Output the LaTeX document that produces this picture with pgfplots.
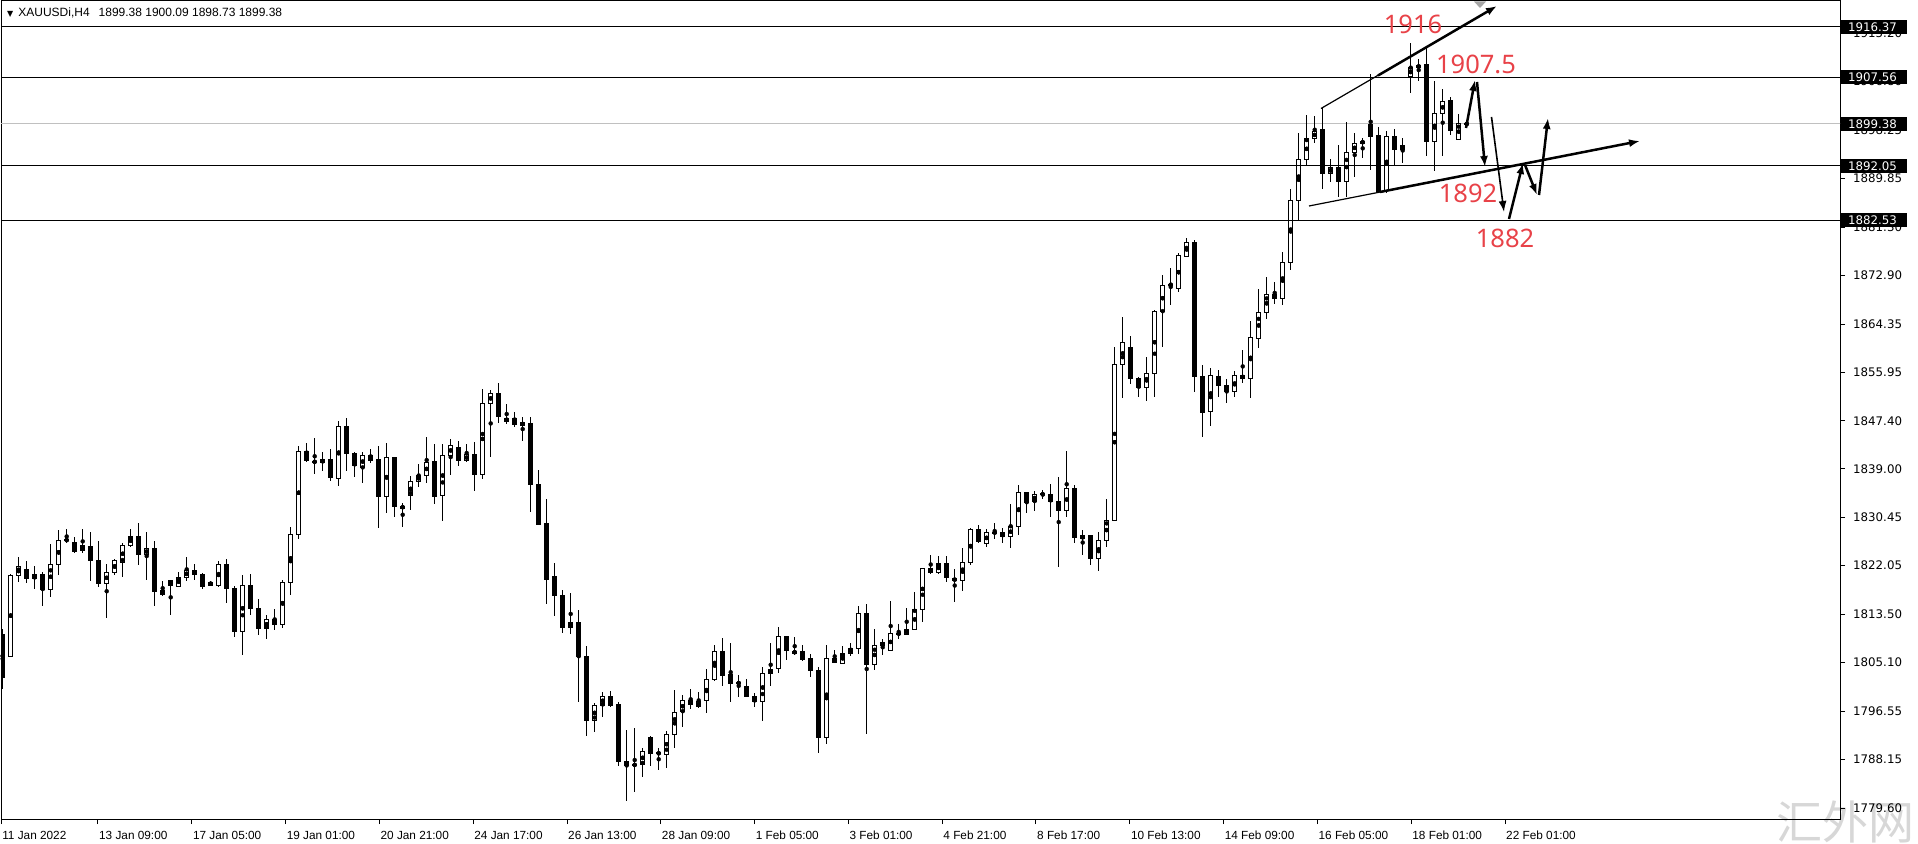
\documentclass[border=0pt]{standalone}
\usepackage{fontspec}
\usepackage{pgfplots}
\usepackage{pgfplotstable}
\pgfplotsset{compat=1.18}
\usetikzlibrary{arrows.meta}
\newfontfamily\dv{DejaVu Sans}
\newfontfamily\lib{Liberation Sans}
\newfontfamily\noto{Noto Sans}
\newfontfamily\cjk{Noto Sans CJK SC}
\newcommand\pricefont{\dv\fontsize{11.8bp}{13bp}\selectfont}
\newcommand\datefont{\lib\fontsize{11.8bp}{13bp}\selectfont}
\newcommand\titlefont{\lib\fontsize{12bp}{14bp}\selectfont}
\newcommand\annfont{\noto\fontsize{25.5bp}{28bp}\selectfont}
\definecolor{annred}{RGB}{232,66,72}
\definecolor{bidgray}{RGB}{192,192,192}
\definecolor{wmgray}{RGB}{215,215,215}

\pgfplotstableread{
i o h l c
0 1810.0 1811.0 1800.5 1802.5
1 1806.23 1820.6 1806.0 1820.41
2 1820.35 1823.5 1819.24 1821.87
3 1821.4 1822.8 1819.07 1819.77
4 1819.77 1821.99 1818.02 1820.58
5 1820.58 1820.93 1814.98 1817.9
6 1817.9 1825.84 1816.62 1822.34
7 1822.28 1828.29 1820.41 1826.54
8 1826.55 1828.4 1825.95 1826.5
9 1826.07 1827.12 1824.32 1824.61
10 1824.67 1828.4 1824.2 1825.6
11 1825.49 1827.94 1819.42 1822.92
12 1823.04 1826.42 1818.37 1818.95
13 1818.95 1822.34 1812.82 1820.93
14 1820.82 1823.27 1820.47 1823.04
15 1822.63 1826.07 1820.0 1825.66
16 1825.6 1828.4 1825.25 1827.24
17 1827.24 1829.57 1822.10 1823.97
18 1823.97 1827.94 1819.53 1825.08
19 1825.08 1826.30 1814.98 1817.49
20 1817.67 1819.42 1816.79 1816.97
21 1819.53 1819.6 1813.41 1818.54
22 1818.48 1820.93 1818.25 1820.0
23 1820.0 1823.5 1819.3 1821.23
24 1821.29 1822.34 1819.53 1820.47
25 1820.58 1820.7 1817.9 1818.48
26 1818.6 1819.3 1818.5 1819.18
27 1818.54 1822.8 1818.4 1822.34
28 1822.34 1823.15 1815.57 1818.02
29 1818.13 1818.48 1809.61 1810.55
30 1810.55 1820.35 1806.4 1818.6
31 1818.6 1820.6 1813.5 1814.5
32 1814.5 1816.3 1810.0 1811.0
33 1811.0 1813.5 1809.2 1812.6
34 1812.6 1814.5 1810.8 1811.8
35 1811.8 1819.6 1811.2 1819.2
36 1819.13 1828.76 1816.91 1827.53
37 1827.53 1843.0 1826.66 1842.12
38 1842.12 1843.46 1840.25 1840.54
39 1840.25 1844.34 1838.09 1840.2
40 1840.08 1841.94 1838.68 1840.66
41 1840.66 1842.41 1836.87 1837.45
42 1837.33 1847.37 1836.05 1846.38
43 1846.38 1847.95 1838.68 1841.71
44 1841.71 1841.94 1837.63 1839.55
45 1839.26 1841.94 1836.58 1841.30
46 1841.30 1842.41 1839.96 1840.54
47 1840.66 1843.0 1828.70 1834.12
48 1834.12 1843.58 1831.32 1841.01
49 1841.01 1841.1 1830.51 1832.37
50 1832.49 1833.07 1828.87 1832.08
51 1834.24 1837.74 1831.79 1836.75
52 1836.81 1839.79 1835.87 1837.86
53 1837.86 1844.51 1836.58 1840.14
54 1840.37 1843.35 1832.84 1834.24
55 1834.30 1843.35 1829.92 1841.36
56 1841.36 1844.16 1837.98 1843.11
57 1842.76 1843.87 1839.49 1840.43
58 1840.43 1843.35 1840.19 1841.54
59 1841.54 1843.70 1835.17 1838.03
60 1838.03 1852.92 1837.28 1850.46
61 1850.46 1852.80 1841.13 1852.21
62 1852.21 1853.97 1847.08 1848.13
63 1847.37 1850.35 1846.85 1847.84
64 1847.84 1848.89 1846.38 1846.79
65 1846.67 1848.01 1843.93 1847.08
66 1846.96 1848.13 1831.50 1836.28
67 1836.28 1838.79 1829.17 1829.34
68 1829.34 1833.66 1815.28 1819.65
69 1820.24 1822.45 1813.29 1816.79
70 1816.85 1817.79 1810.31 1811.19
71 1811.25 1817.20 1810.02 1812.13
72 1812.13 1814.28 1798.12 1806.11
73 1806.23 1808.04 1792.28 1794.91
74 1794.91 1798.06 1792.87 1797.65
75 1797.59 1799.93 1795.61 1799.23
76 1799.23 1800.04 1797.36 1797.65
77 1797.83 1798.24 1786.97 1787.73
78 1787.85 1793.27 1780.90 1787.03
79 1787.2 1793.57 1782.48 1787.15
80 1787.26 1790.07 1784.99 1789.60
81 1791.99 1792.22 1786.97 1789.19
82 1789.3 1790.07 1786.27 1789.1
83 1789.08 1793.10 1786.56 1792.52
84 1792.57 1800.28 1790.07 1796.37
85 1796.49 1799.40 1793.74 1798.41
86 1798.41 1800.40 1796.89 1797.77
87 1797.36 1799.87 1797.07 1798.30
88 1798.42 1803.90 1796.31 1802.15
89 1802.09 1808.16 1801.92 1807.05
90 1807.11 1809.33 1800.98 1802.79
91 1803.03 1808.57 1798.24 1801.45
92 1801.62 1802.91 1799.11 1801.39
93 1800.98 1802.21 1798.99 1799.23
94 1799.23 1799.70 1797.25 1798.24
95 1798.24 1804.25 1794.91 1803.20
96 1803.20 1808.45 1800.98 1803.90
97 1804.02 1811.25 1803.20 1809.62
98 1809.74 1809.8 1805.53 1807.17
99 1806.70 1809.50 1806.41 1807.11
100 1807.11 1808.10 1805.42 1805.71
101 1805.83 1806.58 1802.62 1803.67
102 1803.78 1804.25 1789.19 1791.94
103 1791.94 1808.16 1790.83 1805.83
104 1805.83 1807.29 1805.07 1805.18
105 1804.95 1807.99 1804.83 1806.70
106 1806.70 1808.45 1806.23 1807.58
107 1807.58 1814.99 1806.58 1813.70
108 1813.70 1815.34 1792.58 1804.78
109 1804.78 1810.90 1803.78 1808.10
110 1808.10 1809.15 1806.41 1808.57
111 1807.23 1815.86 1807.1 1810.20
112 1810.2 1811.78 1809.15 1810.1
113 1810.03 1814.58 1809.9 1810.90
114 1810.90 1817.50 1810.8 1814.40
115 1814.40 1821.7 1812.24 1821.58
116 1821.58 1823.92 1820.59 1820.82
117 1820.88 1823.74 1820.53 1822.46
118 1822.46 1823.74 1819.25 1819.95
119 1819.83 1821.41 1815.75 1819.42
120 1819.42 1825.08 1817.67 1822.63
121 1822.57 1828.64 1822.17 1828.41
122 1828.41 1829.17 1825.96 1826.25
123 1825.96 1828.41 1825.38 1827.88
124 1827.9 1829.46 1826.78 1827.8
125 1827.94 1828.70 1826.07 1827.13
126 1827.13 1832.84 1825.08 1828.88
127 1828.88 1836.17 1827.42 1834.89
128 1834.89 1835.0 1831.33 1833.14
129 1833.25 1835.06 1831.68 1834.54
130 1834.5 1835.30 1833.72 1834.6
131 1834.54 1836.35 1830.63 1833.31
132 1833.37 1837.51 1821.87 1831.68
133 1831.68 1842.12 1830.51 1835.59
134 1835.59 1836.17 1825.96 1827.01
135 1826.78 1828.29 1823.92 1827.25
136 1827.25 1827.3 1822.17 1823.27
137 1823.27 1828.0 1821.17 1826.54
138 1826.54 1833.66 1825.26 1830.04
139 1830.04 1860.38 1829.87 1857.29
140 1857.29 1865.64 1851.46 1861.14
141 1860.27 1862.25 1853.85 1854.78
142 1854.84 1855.13 1851.63 1853.21
143 1853.27 1858.52 1850.93 1855.72
144 1855.72 1866.80 1851.51 1866.63
145 1866.63 1872.93 1860.27 1871.12
146 1871.35 1874.10 1867.62 1871.12
147 1870.60 1876.84 1870.01 1876.26
148 1876.26 1879.35 1876.02 1878.59
149 1878.59 1879.06 1852.51 1855.13
150 1855.13 1857.17 1844.63 1848.83
151 1849.01 1856.59 1846.55 1855.37
152 1855.25 1856.30 1851.63 1853.56
153 1853.67 1854.67 1850.46 1852.51
154 1852.51 1856.06 1851.51 1855.37
155 1855.37 1859.80 1854.08 1854.84
156 1854.84 1864.94 1851.46 1862.02
157 1861.84 1870.42 1860.09 1866.40
158 1866.40 1872.52 1865.17 1869.55
159 1869.55 1871.76 1867.85 1868.85
160 1868.85 1877.02 1867.68 1875.09
161 1875.09 1888.0 1873.81 1886.06
162 1886.06 1897.73 1882.66 1893.18
163 1893.18 1900.94 1892.19 1896.86
164 1896.86 1900.77 1895.98 1898.08
165 1898.43 1902.11 1887.93 1890.73
166 1890.73 1893.18 1889.27 1891.78
167 1891.78 1895.69 1886.53 1889.27
168 1889.27 1899.66 1886.53 1894.41
169 1894.41 1897.73 1890.15 1895.98
170 1895.98 1896.86 1893.36 1896.39
171 1899.37 1908.2 1891.31 1897.15
172 1897.27 1898.90 1887.3 1887.52
173 1887.81 1898.20 1887.35 1897.27
174 1897.27 1898.43 1892.19 1894.82
175 1894.82 1896.86 1892.60 1895.69
176 1907.66 1913.61 1904.86 1909.29
177 1909.29 1910.69 1906.96 1909.64
178 1909.82 1912.62 1893.77 1896.28
179 1896.28 1906.96 1891.20 1901.24
180 1901.24 1905.44 1893.77 1903.34
181 1903.57 1904.04 1897.45 1898.32
182 1896.69 1901.12 1896.69 1899.37
183 1899.38 1900.09 1898.73 1899.38
}\candles

\begin{document}
\begin{tikzpicture}
\begin{axis}[
  at={(1bp,25bp)}, anchor=south west, scale only axis, width=1839bp, height=818bp,
  xmin=-0.2125, xmax=229.6625, ymin=1777.70, ymax=1920.90, enlargelimits=false,
  axis line style={black, line width=1bp},
  xtick={-0.2,11.91,23.64,35.36,47.09,58.81,70.54,82.26,93.99,105.71,117.44,129.16,140.89,152.61,164.34,176.06,187.79},
  xticklabels={11 Jan 2022,13 Jan 09:00,17 Jan 05:00,19 Jan 01:00,20 Jan 21:00,24 Jan 17:00,26 Jan 13:00,28 Jan 09:00,1 Feb 05:00,3 Feb 01:00,4 Feb 21:00,8 Feb 17:00,10 Feb 13:00,14 Feb 09:00,16 Feb 05:00,18 Feb 01:00,22 Feb 01:00},
  ytick={1779.60,1788.15,1796.55,1805.10,1813.50,1822.05,1830.45,1839.00,1847.40,1855.95,1864.35,1872.90,1881.30,1889.85,1898.25,1906.80,1915.20},
  yticklabels={1779.60,1788.15,1796.55,1805.10,1813.50,1822.05,1830.45,1839.00,1847.40,1855.95,1864.35,1872.90,1881.30,1889.85,1898.25,1906.80,1915.20},
  xtick pos=left, ytick pos=right, yticklabel pos=right,
  tick align=outside, major tick length=5bp, tick style={black, line width=1bp},
  xticklabel style={font=\datefont, anchor=north west, inner sep=0pt, yshift=-7bp, xshift=1bp},
  yticklabel style={font=\pricefont, anchor=west, inner sep=0pt, xshift=8bp},
]
\addplot[bidgray, line width=1bp, forget plot] coordinates {(-1,1899.38) (231,1899.38)};
\addplot[only marks, mark=none, forget plot, error bars/.cd, y dir=both, y explicit, error mark=none,
  error bar style={draw=black, line width=1bp}]
  table[x=i, y expr={(\thisrow{h}+\thisrow{l})/2}, y error expr={(\thisrow{h}-\thisrow{l})/2}] {\candles};
\addplot[only marks, mark=none, forget plot, error bars/.cd, y dir=both, y explicit, error mark=none,
  error bar style={draw=black, line width=5bp}]
  table[x=i, y expr={(\thisrow{o}+\thisrow{c})/2}, y error expr={abs(\thisrow{c}-\thisrow{o})/2+0.0875}] {\candles};
\addplot[only marks, mark=none, forget plot, error bars/.cd, y dir=both, y explicit, error mark=none,
  error bar style={draw=white, line width=3bp}]
  table[x=i, y expr={(\thisrow{o}+\thisrow{c})/2}, y error expr={max(0,(\thisrow{c}-\thisrow{o})/2-0.0875)}] {\candles};
\addplot[black, line width=1bp, forget plot] coordinates {(-1,1916.37) (231,1916.37)};
\addplot[black, line width=1bp, forget plot] coordinates {(-1,1907.56) (231,1907.56)};
\addplot[black, line width=1bp, forget plot] coordinates {(-1,1892.05) (231,1892.05)};
\addplot[black, line width=1bp, forget plot] coordinates {(-1,1882.53) (231,1882.53)};
\coordinate (AXtl) at (rel axis cs:0,1);
\end{axis}
\begin{scope}[shift={(AXtl)}, x=1bp, y=-1bp, shift={(-1,-1)}]
  \pgfresetboundingbox
  \useasboundingbox (0,0) rectangle (1918,844);
  \node[anchor=base west, inner sep=0, text=wmgray, blend mode=multiply, font=\cjk\fontsize{46bp}{46bp}\selectfont] at (1776,840) {汇外网};
  \foreach \yy/\lab in {26.9/1916.37, 77.2/1907.56, 123.9/1899.38, 165.8/1892.05, 220.2/1882.53} {
    \fill[black] (1841,\yy-7) rectangle (1907,\yy+7);
    \node[anchor=west, inner sep=0, text=white, font=\pricefont] at (1848,\yy) {\lab};
  }
  \node[anchor=west, inner sep=0, font=\titlefont] at (7,13) {{\dv\fontsize{8bp}{8bp}\selectfont ▼}\hspace{5bp}XAUUSDi,H4\hspace{9bp}1899.38 1900.09 1898.73 1899.38};
  \fill[gray!70] (1474,1.5) -- (1486,1.5) -- (1480,8) -- cycle;
  % trend lines
  \draw[black, line width=1.2bp] (1321,108.5) -- (1400,62.5);
  \draw[black, line width=2.5bp, -{Latex[length=11bp,width=8bp]}] (1378,75.5) -- (1497,6);
  \draw[black, line width=1.2bp] (1309,206) -- (1560,156.8);
  \draw[black, line width=2.5bp, -{Latex[length=11bp,width=8bp]}] (1380,192) -- (1640,141);
  % zigzag arrows
  \draw[black, line width=2.5bp, -{Latex[length=11bp,width=8bp]}] (1466,128) -- (1475,80);
  \draw[black, line width=2.5bp, -{Latex[length=11bp,width=8bp]}] (1477,82) -- (1485,167);
  \draw[black, line width=1.6bp, -{Latex[length=11bp,width=8bp]}] (1491.5,117) -- (1504,212);
  \draw[black, line width=2.5bp, -{Latex[length=11bp,width=8bp]}] (1509,219) -- (1523,163);
  \draw[black, line width=2.5bp, -{Latex[length=11bp,width=8bp]}] (1525,165) -- (1537,195);
  \draw[black, line width=2.5bp, -{Latex[length=11bp,width=8bp]}] (1539,195) -- (1548,118);
  % red labels
  \node[text=annred, font=\annfont, inner sep=0] at (1413,24) {1916};
  \node[text=annred, font=\annfont, inner sep=0] at (1476,64) {1907.5};
  \node[text=annred, font=\annfont, inner sep=0] at (1468,193) {1892};
  \node[text=annred, font=\annfont, inner sep=0] at (1505,238) {1882};
\end{scope}
\end{tikzpicture}
\end{document}
